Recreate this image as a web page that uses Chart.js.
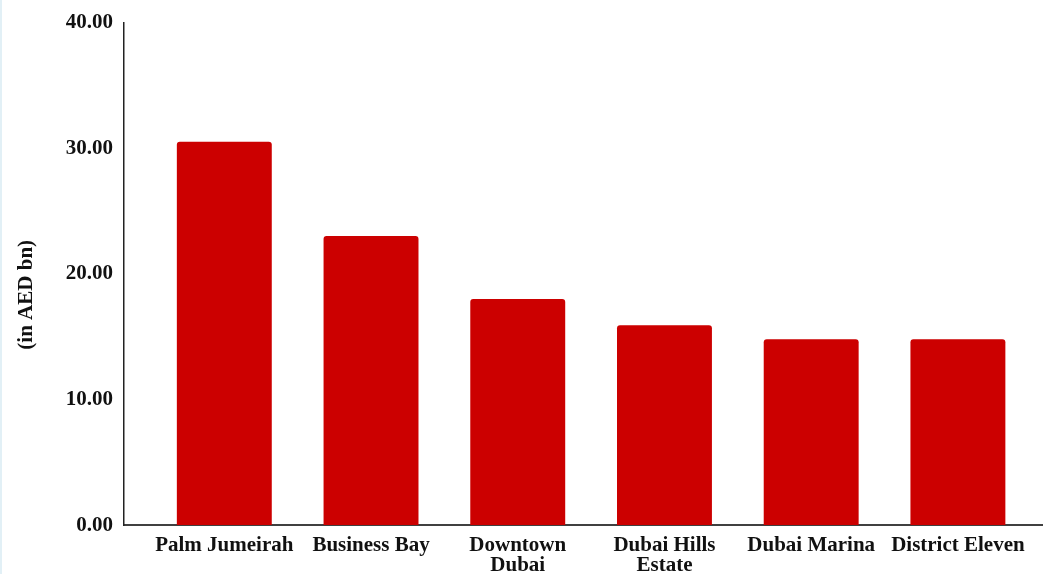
<!DOCTYPE html>
<html>
<head>
<meta charset="utf-8">
<script src="https://cdn.jsdelivr.net/npm/chart.js@4/dist/chart.umd.min.js"></script>
<style>
  html, body { margin: 0; padding: 0; background: #ffffff; overflow: hidden; }
  .frame {
    width: 1041px;
    height: 574px;
    border-left: 2px solid #e2f0f6;
    overflow: hidden;
  }
  .wrap {
    width: 1041px;
    height: 579px;
    position: relative;
  }
</style>
</head>
<body>
<div class="frame"><div class="wrap"><canvas id="chart"></canvas></div></div>
<script>
// Residential sales value by community (AED bn)
const categories = [
  'Palm Jumeirah',
  'Business Bay',
  ['Downtown', 'Dubai'],
  ['Dubai Hills', 'Estate'],
  'Dubai Marina',
  'District Eleven'
];
const salesValues = [30.5, 23.0, 18.0, 15.9, 14.8, 14.8];
const yTicks = [0, 10, 20, 30, 40];
const yTitle = '(in AED bn)';

const serif = '"Liberation Serif", "Times New Roman", serif';
const labelFont = { family: serif, size: 21, weight: 'bold', lineHeight: 0.95 };

const ctx = document.getElementById('chart').getContext('2d');
new Chart(ctx, {
  type: 'bar',
  data: {
    datasets: [{
      label: 'Sales value',
      data: salesValues.map((v, i) => ({ x: i, y: v })),
      backgroundColor: '#cc0000',
      borderRadius: 3,
      borderSkipped: 'start',
      barPercentage: 0.647,
      categoryPercentage: 1
    }]
  },
  options: {
    responsive: true,
    maintainAspectRatio: false,
    animation: false,
    layout: { padding: { left: 12, top: 22.5, right: 0, bottom: 0 } },
    plugins: {
      legend: { display: false },
      tooltip: { enabled: false }
    },
    scales: {
      x: {
        type: 'linear',
        offset: false,
        min: -0.684,
        max: 5.58,
        afterBuildTicks: (axis) => {
          axis.ticks = categories.map((_, i) => ({ value: i }));
        },
        grid: { display: false },
        border: { display: true, color: '#404040', width: 2 },
        ticks: {
          autoSkip: false,
          maxRotation: 0,
          minRotation: 0,
          padding: 3,
          color: '#111111',
          font: labelFont,
          callback: (value) => categories[value]
        }
      },
      y: {
        min: 0,
        max: 40,
        afterBuildTicks: (axis) => {
          axis.ticks = yTicks.map(v => ({ value: v }));
        },
        grid: { display: false },
        border: { display: true, color: '#222222', width: 1.5 },
        ticks: {
          padding: 3,
          color: '#111111',
          font: labelFont,
          callback: (value) => value.toFixed(2)
        },
        title: {
          display: true,
          // trailing spaces push the visible title a little below the axis middle
          text: yTitle + '        ',
          color: '#111111',
          font: { family: serif, size: 21, weight: 'bold' },
          padding: { top: 0, bottom: 23.5 }
        }
      }
    }
  }
});
</script>
</body>
</html>
